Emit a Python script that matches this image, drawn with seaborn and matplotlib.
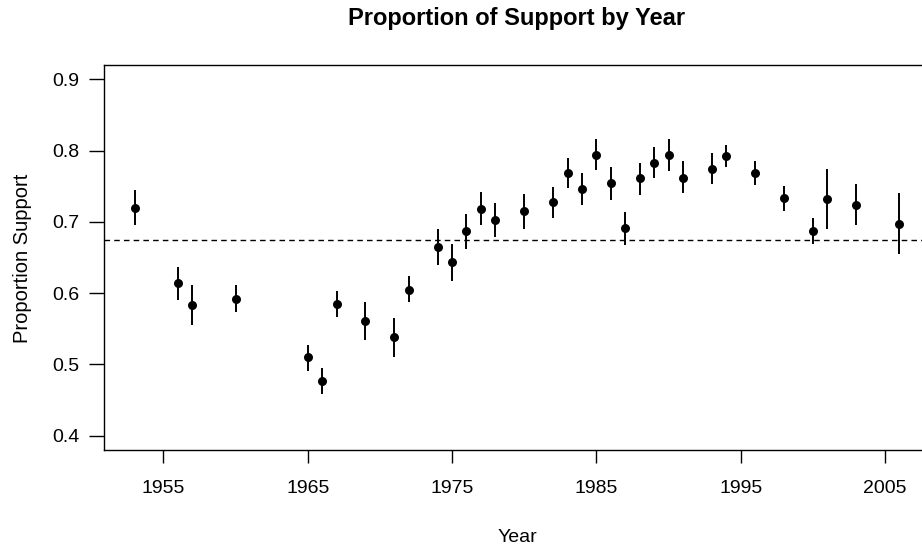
import matplotlib
matplotlib.use("Agg")
import matplotlib.pyplot as plt
import seaborn as sns
import pandas as pd

years = [1953, 1956, 1957, 1960, 1965, 1966, 1967, 1969, 1971, 1972,
         1974, 1975, 1976, 1977, 1978, 1980, 1982, 1983, 1984, 1985,
         1986, 1987, 1988, 1989, 1990, 1991, 1993, 1994, 1996, 1998,
         2000, 2001, 2003, 2006]
support = [0.720, 0.614, 0.583, 0.592, 0.510, 0.477, 0.585, 0.561, 0.538, 0.605,
           0.665, 0.643, 0.687, 0.718, 0.703, 0.715, 0.728, 0.768, 0.746, 0.794,
           0.754, 0.691, 0.761, 0.783, 0.794, 0.762, 0.774, 0.793, 0.768, 0.733,
           0.687, 0.732, 0.724, 0.697]
lower = [0.695, 0.590, 0.555, 0.573, 0.491, 0.459, 0.567, 0.534, 0.511, 0.587,
         0.640, 0.617, 0.662, 0.695, 0.679, 0.690, 0.706, 0.747, 0.723, 0.773,
         0.731, 0.668, 0.738, 0.762, 0.772, 0.740, 0.753, 0.777, 0.752, 0.715,
         0.669, 0.690, 0.695, 0.655]
upper = [0.745, 0.637, 0.611, 0.611, 0.527, 0.495, 0.603, 0.588, 0.565, 0.624,
         0.690, 0.669, 0.711, 0.742, 0.727, 0.739, 0.749, 0.790, 0.769, 0.816,
         0.777, 0.714, 0.783, 0.805, 0.816, 0.785, 0.796, 0.808, 0.785, 0.750,
         0.706, 0.774, 0.753, 0.740]
overall_mean = 0.675
x_ticks = [1955, 1965, 1975, 1985, 1995, 2005]
y_ticks = [0.4, 0.5, 0.6, 0.7, 0.8, 0.9]

df = pd.DataFrame({"Year": years, "Support": support, "lo": lower, "hi": upper})

sns.set_style("white")
plt.rcParams["font.family"] = ["Liberation Sans", "DejaVu Sans"]
plt.rcParams["text.color"] = "black"

fig = plt.figure(figsize=(9.22, 5.48), dpi=100)
ax = fig.add_axes([104 / 922, 1 - 450 / 548, (930 - 104) / 922, (450 - 65) / 548])

ax.vlines(df["Year"], df["lo"], df["hi"], color="black", linewidth=1.4, zorder=2)
sns.scatterplot(data=df, x="Year", y="Support", ax=ax, color="black", s=42,
                edgecolor="black", linewidth=0, zorder=3, legend=False)
ax.axhline(overall_mean, color="black", linewidth=1.0, linestyle=(0, (4, 3)), zorder=1)

span = years[-1] - years[0]
ax.set_xlim(years[0] - 0.04 * span, years[-1] + 0.04 * span)
ax.set_ylim(0.38, 0.92)
ax.set_xticks(x_ticks)
ax.set_xticklabels([str(t) for t in x_ticks])
ax.set_yticks(y_ticks)
ax.set_yticklabels([f"{t:.1f}" for t in y_ticks])

for sp in ax.spines.values():
    sp.set_visible(True)
    sp.set_color("black")
    sp.set_linewidth(1.0)

ax.tick_params(axis="x", bottom=True, direction="out", length=9, width=1, pad=12.5,
               labelsize=14, colors="black", labelcolor="black")
ax.tick_params(axis="y", left=True, direction="out", length=10.5, width=1, pad=7,
               labelsize=14, colors="black", labelcolor="black")
ax.set_xlabel("")
ax.set_ylabel("")

fig.text(517 / 922, 1 - 537 / 548, "Year", ha="center", va="center", fontsize=14,
         color="black")
fig.text(22 / 922, 1 - 258 / 548, "Proportion Support", ha="center", va="center",
         rotation=90, fontsize=14.5, color="black")
fig.text(517 / 922, 1 - 18 / 548, "Proportion of Support by Year", ha="center",
         va="center", fontsize=17, fontweight="bold", color="black")

fig.savefig("out.png", dpi=100)
